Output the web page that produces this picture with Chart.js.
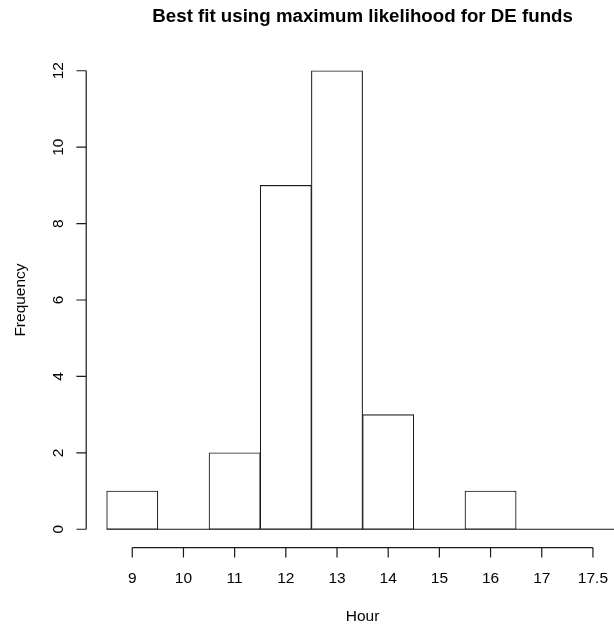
<!DOCTYPE html>
<html><head><meta charset="utf-8">
<style>
html,body{margin:0;padding:0;background:#fff;overflow:hidden;width:614px;height:628px}
#wrap{position:relative;width:700px;height:628px}
canvas{display:block}
</style>
<script src="https://cdn.jsdelivr.net/npm/chart.js@4.4.1/dist/chart.umd.min.js"></script>
</head><body><div id="wrap"><canvas id="c" width="700" height="628"></canvas></div>
<script>
const chartTitle = 'Best fit using maximum likelihood for DE funds';
const xAxisTitle = 'Hour';
const yAxisTitle = 'Frequency';
const binBreaks = [8.5, 9.5, 10.5, 11.5, 12.5, 13.5, 14.5, 15.5, 16.5, 17.5, 18.5];
const binCounts = [1, 0, 2, 9, 12, 3, 0, 1, 0, 0];
const xTickValues = [9, 10, 11, 12, 13, 14, 15, 16, 17, 18];
const xTickLabels = ['9', '10', '11', '12', '13', '14', '15', '16', '17', '17.5'];
const yTickValues = [0, 2, 4, 6, 8, 10, 12];
const yTickLabels = ['0', '2', '4', '6', '8', '10', '12'];

const FONT = '"Liberation Sans", Arial, Helvetica, sans-serif';
const LW = 1.2;

const barData = binCounts.map((c, i) => ({ x: (binBreaks[i] + binBreaks[i + 1]) / 2, y: c }));
const baseLine = [{ x: binBreaks[0], y: 0 }, { x: binBreaks[binBreaks.length - 1], y: 0 }];

const xr = [binBreaks[0], binBreaks[binBreaks.length - 1]];
const xpad = (xr[1] - xr[0]) * 0.04;
const ymax = Math.max(...binCounts);
const ypad = ymax * 0.04;

const rAxes = {
  id: 'rAxes',
  afterDraw(chart) {
    const ctx = chart.ctx, xs = chart.scales.x, ys = chart.scales.y, ca = chart.chartArea;
    const tick = 9.8;
    ctx.save();
    ctx.strokeStyle = '#1a1a1a';
    ctx.fillStyle = '#000';
    ctx.lineWidth = LW;
    // x axis
    const ay = ca.bottom;
    ctx.beginPath();
    ctx.moveTo(xs.getPixelForValue(xTickValues[0]), ay);
    ctx.lineTo(xs.getPixelForValue(xTickValues[xTickValues.length - 1]), ay);
    xTickValues.forEach(v => {
      const p = xs.getPixelForValue(v);
      ctx.moveTo(p, ay); ctx.lineTo(p, ay + tick);
    });
    // y axis
    const ax = ca.left;
    ctx.moveTo(ax, ys.getPixelForValue(yTickValues[0]));
    ctx.lineTo(ax, ys.getPixelForValue(yTickValues[yTickValues.length - 1]));
    yTickValues.forEach(v => {
      const p = ys.getPixelForValue(v);
      ctx.moveTo(ax, p); ctx.lineTo(ax - tick, p);
    });
    ctx.stroke();

    ctx.font = '15.5px ' + FONT;
    ctx.textAlign = 'center';
    ctx.textBaseline = 'alphabetic';
    xTickValues.forEach((v, i) => {
      ctx.fillText(xTickLabels[i], xs.getPixelForValue(v), ay + 35.3);
    });
    yTickValues.forEach((v, i) => {
      ctx.save();
      ctx.translate(ax - 23.5, ys.getPixelForValue(v));
      ctx.rotate(-Math.PI / 2);
      ctx.fillText(yTickLabels[i], 0, 0);
      ctx.restore();
    });
    const cx = (ca.left + ca.right) / 2, cy = (ca.top + ca.bottom) / 2;
    ctx.fillText(xAxisTitle, cx, ay + 73.4);
    ctx.save();
    ctx.translate(ax - 61.2, cy);
    ctx.rotate(-Math.PI / 2);
    ctx.fillText(yAxisTitle, 0, 0);
    ctx.restore();
    ctx.font = 'bold 18.7px ' + FONT;
    ctx.fillText(chartTitle, cx, 21.7);
    ctx.restore();
  }
};

new Chart(document.getElementById('c'), {
  type: 'bar',
  data: {
    datasets: [
      {
        type: 'line',
        data: baseLine,
        borderColor: '#1a1a1a',
        borderWidth: LW,
        pointRadius: 0,
        fill: false,
        order: 2
      },
      {
        type: 'bar',
        data: barData,
        backgroundColor: '#fff',
        borderColor: '#1a1a1a',
        borderWidth: 1.1,
        borderSkipped: false,
        barPercentage: 1.0,
        categoryPercentage: 1.0,
        order: 1
      }
    ]
  },
  plugins: [rAxes],
  options: {
    responsive: false,
    devicePixelRatio: 1,
    animation: false,
    layout: { padding: { left: 86.2, right: 700 - 639, top: 52.4, bottom: 628 - 547.6 } },
    plugins: { legend: { display: false }, title: { display: false }, tooltip: { enabled: false } },
    scales: {
      x: {
        type: 'linear', display: false, offset: false,
        grid: { offset: false },
        min: xr[0] - xpad, max: xr[1] + xpad,
        ticks: { stepSize: 1, includeBounds: false }
      },
      y: {
        type: 'linear', display: false,
        min: -ypad, max: ymax + ypad
      }
    }
  }
});
</script>
</body></html>
